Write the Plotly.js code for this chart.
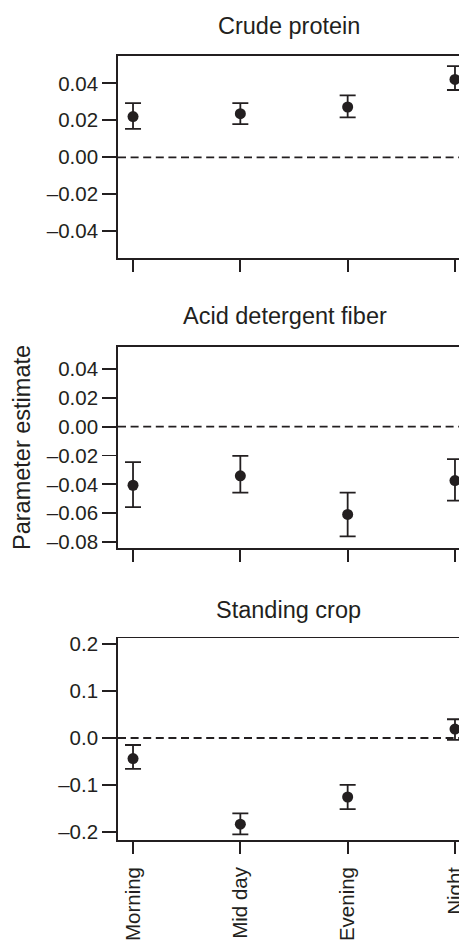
<!DOCTYPE html>
<html><head><meta charset="utf-8">
<script src="https://cdn.plot.ly/plotly-3.0.1.min.js"></script>
<style>html,body{margin:0;padding:0;overflow:hidden;background:#fff}#plot{width:470px;height:940px}</style>
</head><body><div id="plot"></div>
<script>
const categories = ["Morning", "Mid day", "Evening", "Night"];

const cpEst   = [0.0220, 0.0236, 0.0272, 0.0421];
const cpUpper = [0.0293, 0.0293, 0.0335, 0.0493];
const cpLower = [0.0154, 0.0179, 0.0216, 0.0364];

const adfEst   = [-0.0406, -0.0341, -0.0608, -0.0374];
const adfUpper = [-0.0246, -0.0202, -0.0457, -0.0225];
const adfLower = [-0.0557, -0.0457, -0.0760, -0.0513];

const scEst   = [-0.044, -0.184, -0.126, 0.019];
const scUpper = [-0.015, -0.161, -0.100, 0.040];
const scLower = [-0.066, -0.206, -0.152, -0.004];

const cpTickVals = [-0.04, -0.02, 0, 0.02, 0.04];
const cpTickText = ["\u20130.04", "\u20130.02", "0.00", "0.02", "0.04"];
const adfTickVals = [-0.08, -0.06, -0.04, -0.02, 0, 0.02, 0.04];
const adfTickText = ["\u20130.08", "\u20130.06", "\u20130.04", "\u20130.02", "0.00", "0.02", "0.04"];
const scTickVals = [-0.2, -0.1, 0, 0.1, 0.2];
const scTickText = ["\u20130.2", "\u20130.1", "0.0", "0.1", "0.2"];

const panelTitles = ["Crude protein", "Acid detergent fiber", "Standing crop"];
const yTitle = "Parameter estimate";

const INK = "#231f20";
const FONT = "Liberation Sans, Arial, sans-serif";
const W = 470, H = 940;

function trace(est, up, lo, xa, ya) {
  return {
    type: "scatter", mode: "markers", x: categories, y: est,
    xaxis: xa, yaxis: ya, cliponaxis: false,
    marker: {color: INK, size: 11},
    error_y: {type: "data", symmetric: false,
      array: est.map((v, i) => up[i] - v),
      arrayminus: est.map((v, i) => v - lo[i]),
      color: INK, thickness: 1.8, width: 8},
    showlegend: false, hoverinfo: "skip"
  };
}

const data = [
  trace(cpEst, cpUpper, cpLower, "x", "y"),
  trace(adfEst, adfUpper, adfLower, "x2", "y2"),
  trace(scEst, scUpper, scLower, "x3", "y3")
];

// pixel frame positions
const panels = [[56, 258], [346.7, 548.3], [638.3, 840]];
const yRanges = [[-0.0545, 0.0548], [-0.0843, 0.0554], [-0.2178, 0.2128]];
const ticks = [[cpTickVals, cpTickText], [adfTickVals, adfTickText], [scTickVals, scTickText]];
const xdom = [118 / W, 1];

const layout = {
  width: W, height: H, margin: {l: 0, r: 0, t: 0, b: 0},
  paper_bgcolor: "#fff", plot_bgcolor: "#fff",
  font: {family: FONT, color: INK, size: 20.5},
  shapes: [], annotations: []
};

const titleBase = [35, 325, 619];
const titleX = [289, 285, 288.5];

for (let i = 0; i < 3; i++) {
  const s = i === 0 ? "" : String(i + 1);
  const [top, bot] = panels[i];
  layout["xaxis" + s] = {
    domain: xdom, anchor: "y" + s, type: "category",
    range: [-0.14, 3.14], showline: true, mirror: true, linecolor: INK, linewidth: 1.8,
    ticks: "outside", ticklen: 12, tickwidth: 1.8, tickcolor: INK,
    showgrid: false, zeroline: false, fixedrange: true,
    showticklabels: i === 2, tickangle: -90, ticklabelstandoff: 5,
    tickfont: {family: FONT, size: 20.5, color: INK}
  };
  layout["yaxis" + s] = {
    domain: [1 - bot / H, 1 - top / H], anchor: "x" + s,
    range: yRanges[i], showline: true, mirror: true, linecolor: INK, linewidth: 1.8,
    ticks: "outside", ticklen: 14, tickwidth: 1.8, tickcolor: INK,
    tickvals: ticks[i][0], ticktext: ticks[i][1],
    showgrid: false, zeroline: false, fixedrange: true,
    tickfont: {family: FONT, size: 20.5, color: INK}
  };
  layout.shapes.push({type: "line", xref: "x" + s + " domain", x0: 0, x1: 1,
    yref: "y" + s, y0: 0, y1: 0, line: {color: INK, width: 1.8, dash: "8px,4.6px"}, layer: "below"});
  layout.annotations.push({text: panelTitles[i], xref: "paper", yref: "paper",
    x: titleX[i] / W, y: 1 - titleBase[i] / H, xanchor: "center", yanchor: "bottom",
    showarrow: false, font: {family: FONT, size: 23.5, color: INK}, yshift: -6});
}
layout.annotations.push({text: yTitle, xref: "paper", yref: "paper",
  x: 22 / W, y: 1 - 448 / H, xanchor: "center", yanchor: "middle", textangle: -90,
  showarrow: false, font: {family: FONT, size: 23.5, color: INK}});

Plotly.newPlot("plot", data, layout, {displayModeBar: false, staticPlot: true});
</script></body></html>
